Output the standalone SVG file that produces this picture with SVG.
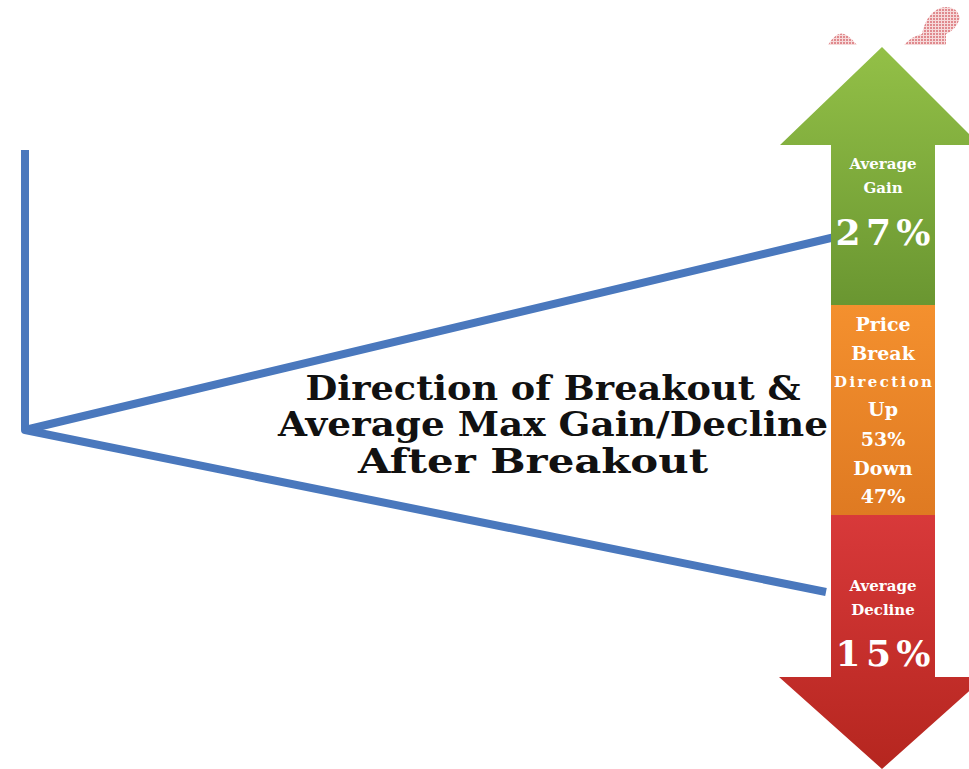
<svg xmlns="http://www.w3.org/2000/svg" width="969" height="769" viewBox="0 0 969 769">
<defs>
<linearGradient id="gGreen" x1="0" y1="0" x2="0" y2="1"><stop offset="0" stop-color="#93c047"/><stop offset="1" stop-color="#6a9631"/></linearGradient>
<linearGradient id="gOrange" x1="0" y1="0" x2="0" y2="1"><stop offset="0" stop-color="#f4902e"/><stop offset="1" stop-color="#df7a22"/></linearGradient>
<linearGradient id="gRed" x1="0" y1="0" x2="0" y2="1"><stop offset="0" stop-color="#d8393a"/><stop offset="1" stop-color="#b5261f"/></linearGradient>
<pattern id="dots" width="3" height="3" patternUnits="userSpaceOnUse"><rect width="3" height="3" fill="#f6dada"/><rect width="2" height="2" fill="#e08a8e"/></pattern>
</defs>
<style>
.line{stroke:#4a78bd;stroke-width:8;fill:none;stroke-linecap:butt;stroke-linejoin:round}
.lbl{font-family:"DejaVu Serif","Liberation Serif",serif;font-weight:bold;fill:#ffffff;text-anchor:middle}
.title{font-family:"DejaVu Serif","Liberation Serif",serif;font-weight:bold;fill:#111111;text-anchor:middle;font-size:33px}
</style>
<rect width="969" height="769" fill="#ffffff"/>
<g id="decor">
<path d="M828,45 Q838,28 848,36 Q853,40 857,45 Z" fill="url(#dots)"/>
<path d="M904,45 Q912,36 922,34 Q926,14 940,8 Q956,4 960,18 Q956,30 946,34 L946,45 Z" fill="url(#dots)"/>
</g>
<g id="connectors">
<polyline class="line" points="25,150 25,430 835,237"/>
<line class="line" x1="25" y1="430" x2="826" y2="592"/>
</g>
<g id="up-arrow">
<path d="M882,47 L980,145 L935,145 L935,305 L831,305 L831,145 L780,145 Z" fill="url(#gGreen)"/>
<text class="lbl" x="883" y="169" font-size="15">Average</text>
<text class="lbl" x="883" y="193" font-size="15">Gain</text>
<text class="lbl" x="883" y="245" font-size="36" font-weight="normal" textLength="95">27%</text>
</g>
<g id="direction-box">
<rect x="831" y="305" width="104" height="210" fill="url(#gOrange)"/>
<text class="lbl" x="883" y="331" font-size="19" fill="#fdeedd">Price</text>
<text class="lbl" x="883" y="360" font-size="19">Break</text>
<text class="lbl" x="883" y="387" font-size="15" textLength="98">Direction</text>
<text class="lbl" x="883" y="416" font-size="19">Up</text>
<text class="lbl" x="883" y="446" font-size="19">53%</text>
<text class="lbl" x="883" y="475" font-size="19">Down</text>
<text class="lbl" x="883" y="503" font-size="19">47%</text>
</g>
<g id="down-arrow">
<path d="M831,515 L935,515 L935,677 L985,677 L882,769 L779,677 L831,677 Z" fill="url(#gRed)"/>
<text class="lbl" x="883" y="591" font-size="15">Average</text>
<text class="lbl" x="883" y="615" font-size="15">Decline</text>
<text class="lbl" x="883" y="666" font-size="36" textLength="95">15%</text>
</g>
<g id="title">
<text class="title" x="553" y="400" textLength="495" lengthAdjust="spacingAndGlyphs">Direction of Breakout &amp;</text>
<text class="title" x="553" y="436" textLength="550" lengthAdjust="spacingAndGlyphs">Average Max Gain/Decline</text>
<text class="title" x="533" y="473" textLength="350" lengthAdjust="spacingAndGlyphs">After Breakout</text>
</g>
</svg>
